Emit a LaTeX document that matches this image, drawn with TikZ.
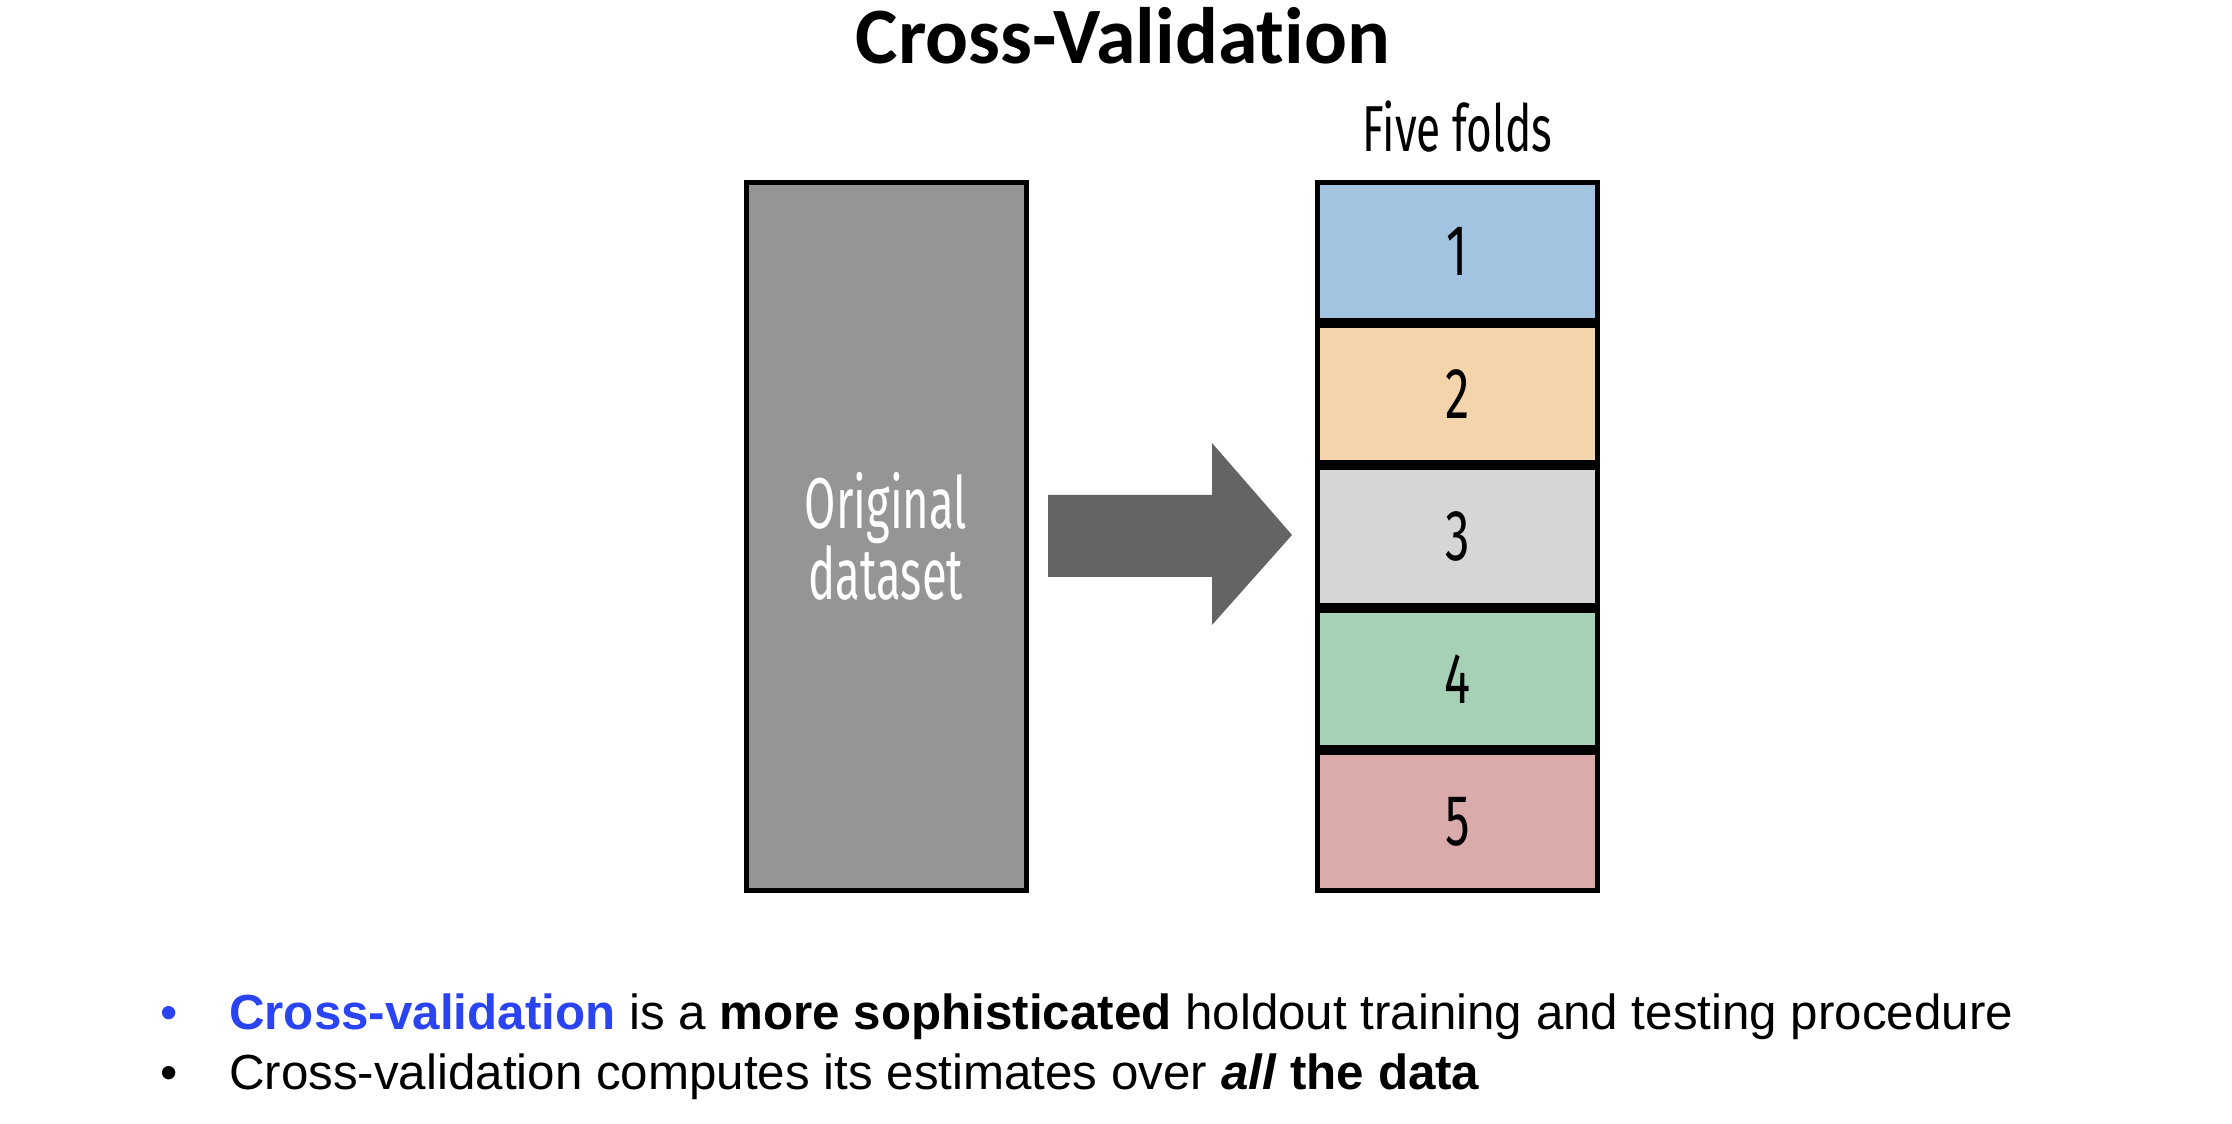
\documentclass[tikz,border=0pt]{standalone}
\usepackage{fontspec}
\setmainfont{Liberation Sans}
\newfontfamily\titlefont[Ligatures=NoCommon]{Carlito}
\newfontfamily\foldfont[FakeStretch=0.68]{Fira Sans}
\newfontfamily\datafont[FakeStretch=0.63]{Fira Sans}
\usepackage{tikz}
\usetikzlibrary{positioning}
\definecolor{cvblue}{HTML}{2B44F2}
\definecolor{datagray}{HTML}{959595}
\definecolor{arrowgray}{HTML}{646464}
\definecolor{foldA}{HTML}{A3C4E1}
\definecolor{foldB}{HTML}{F4D4AA}
\definecolor{foldC}{HTML}{D6D6D6}
\definecolor{foldD}{HTML}{A6D1B6}
\definecolor{foldE}{HTML}{DBAAAA}
\tikzset{databox/.style = {draw, line width = 5pt, fill = datagray, minimum width = 280pt,
                           minimum height = 708pt, inner sep = 0, text = white, align = center,
                           font = \datafont\fontsize{72}{66}\selectfont}}
\tikzset{fold/.style = {draw, line width = 5pt, minimum width = 280pt, minimum height = 137.6pt,
                        inner sep = 0, font = \foldfont\fontsize{72}{72}\selectfont}}
\tikzset{bullettext/.style = {anchor = base west, inner sep = 0,
                              font = \fontsize{49.3}{56}\selectfont}}
\begin{document}
\begin{tikzpicture}[x=1pt, y=1pt]
    \useasboundingbox (0, 0) rectangle (2232, 1124);

    \node [anchor=base, inner sep=0, font=\titlefont\bfseries\fontsize{80}{80}\selectfont] (title)
        at (1123, 1060) {Cross-Validation};

    \node [databox] (orig) at (886, 587.5) {Original\\dataset};

    \foreach \i/\c in {1/foldA, 2/foldB, 3/foldC, 4/foldD, 5/foldE}
        \node [fold, fill=\c] (f\i) at (1457.5, 1015.3 - 142.6*\i) {\i};
    \node [anchor=base, inner sep=0, font=\foldfont\fontsize{65}{65}\selectfont] (folds)
        at (1457.5, 972) {Five folds};

    \fill [arrowgray] (1048, 547) -- (1212, 547) -- (1212, 499) -- (1292, 589)
        -- (1212, 681) -- (1212, 629) -- (1048, 629) -- cycle;

    \node [bullettext, anchor=base, text=cvblue] (dot1) at (169, 94) {\textbullet};
    \node [bullettext] (line1) at (229, 94)
        {\textcolor{cvblue}{\bfseries Cross-validation} is a \textbf{more sophisticated} holdout training and testing procedure};
    \node [bullettext, anchor=base] (dot2) at (169, 34) {\textbullet};
    \node [bullettext] (line2) at (229, 34)
        {Cross-validation computes its estimates over \textbf{\textit{all} the data}};
\end{tikzpicture}
\end{document}
